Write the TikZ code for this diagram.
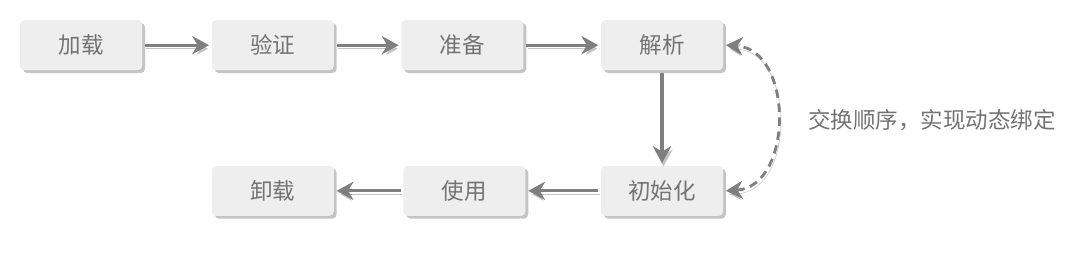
\documentclass[tikz,border=0pt]{standalone}
\usepackage{fontspec}
\setmainfont{Noto Sans CJK SC}
\usetikzlibrary{arrows.meta,positioning,shadows}
\definecolor{boxfill}{HTML}{EEEEEE}
\definecolor{shadegray}{HTML}{C4C4C4}
\definecolor{linegray}{HTML}{7F7F7F}
\definecolor{textgray}{HTML}{737373}

\begin{document}
\begin{tikzpicture}[
    stage/.style={rectangle, rounded corners=3pt, fill=boxfill, text=textgray,
        minimum width=3.05cm, minimum height=1.25cm, outer sep=2pt,
        font=\fontsize{16}{18}\selectfont,
        drop shadow={shadow xshift=2pt, shadow yshift=-2pt, fill=shadegray, opacity=1}},
    flow/.style={draw=linegray, line width=2pt, -{Stealth[length=12pt, width=13pt]},
        preaction={draw=shadegray, transform canvas={xshift=1pt, yshift=-2.5pt}}},
    every node/.style={inner sep=0pt}]
    \useasboundingbox (0,0) rectangle (27,6.4);

    % Upper row
    \node[stage] (load) at (2.03,5.27) {加载};
    \node[stage, right=1.6cm of load] (verify) {验证};
    \node[stage, right=1.55cm of verify] (prepare) {准备};
    \node[stage, right=1.8cm of prepare] (resolve) {解析};

    % Lower row
    \node[stage, below=2.25cm of resolve] (init) {初始化};
    \node[stage, left=1.75cm of init] (use) {使用};
    \node[stage, left=1.6cm of use] (unload) {卸载};

    % Arrows
    \draw[flow] (load) -- (verify);
    \draw[flow] (verify) -- (prepare);
    \draw[flow] (prepare) -- (resolve);
    \draw[flow, line width=2.5pt] (resolve) -- (init);
    \draw[flow] (init) -- (use);
    \draw[flow] (use) -- (unload);

    % Swapped order
    \draw[flow, dash pattern=on 6pt off 4pt, {Stealth[length=12pt, width=13pt]}-{Stealth[length=12pt, width=13pt]}]
        (init.east) .. controls +(1.7,0.1) and +(1.7,-0.1) .. (resolve.east);
    \node[anchor=west, text=textgray, font=\fontsize{16}{18}\selectfont] (note) at (20.2,3.4) {交换顺序，实现动态绑定};
\end{tikzpicture}
\end{document}
